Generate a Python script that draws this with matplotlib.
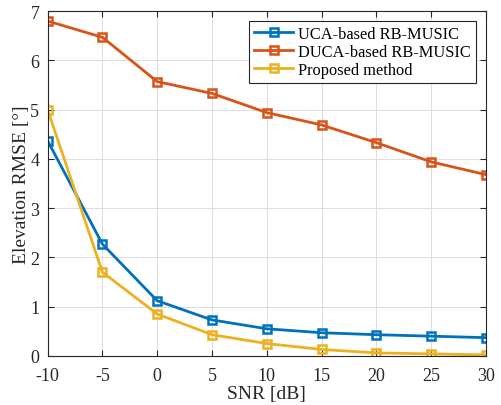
import numpy as np
import matplotlib
matplotlib.use('Agg')
import matplotlib.pyplot as plt

# Dados
snr = [-10, -5, 0, 5, 10, 15, 20, 25, 30]
uca = [4.37, 2.27, 1.12, 0.73, 0.55, 0.47, 0.43, 0.40, 0.37]
duca = [6.80, 6.47, 5.57, 5.33, 4.94, 4.69, 4.33, 3.94, 3.68]
proposto = [5.00, 1.70, 0.85, 0.43, 0.25, 0.13, 0.06, 0.04, 0.02]
rotulos = ['UCA-based RB-MUSIC', 'DUCA-based RB-MUSIC', 'Proposed method']
cores = ['#0072BD', '#D95319', '#EDB120']

plt.rcParams['font.family'] = ['Liberation Serif', 'DejaVu Serif']
plt.rcParams['axes.unicode_minus'] = False

fig = plt.figure(figsize=(5.01, 4.06), dpi=100)
ax = fig.add_axes([0.095, 0.121, 0.875, 0.849])

for y, cor, rot in zip([uca, duca, proposto], cores, rotulos):
    ax.plot(snr, y, color=cor, lw=2, marker='s', ms=6, mfc='none', mew=1.8, label=rot)

ax.set_xlim(-10, 30)
ax.set_ylim(0, 7)
ax.set_xticks(np.arange(-10, 31, 5))
ax.set_yticks(np.arange(0, 8, 1))
ax.grid(True, color='#dddddd', lw=0.7)
ax.tick_params(direction='in', top=True, right=True, labelsize=13, colors='#262626', length=4)
ax.tick_params(axis='x', pad=8)
ax.tick_params(axis='y', pad=6)
for s in ax.spines.values():
    s.set_color('#262626')
    s.set_linewidth(0.8)
ax.set_xlabel('SNR [dB]', fontsize=14, color='#262626', labelpad=1)
ax.set_ylabel('Elevation RMSE [°]', fontsize=14, color='#262626', labelpad=0)

leg = ax.legend(loc='upper right', bbox_to_anchor=(0.977, 0.972), fontsize=11.8,
                fancybox=False, framealpha=1, edgecolor='#262626', borderaxespad=0,
                handlelength=2.4, handletextpad=0.3, labelspacing=0.13, borderpad=0.3)
leg.get_frame().set_linewidth(0.8)

fig.savefig('out.png', dpi=100)
